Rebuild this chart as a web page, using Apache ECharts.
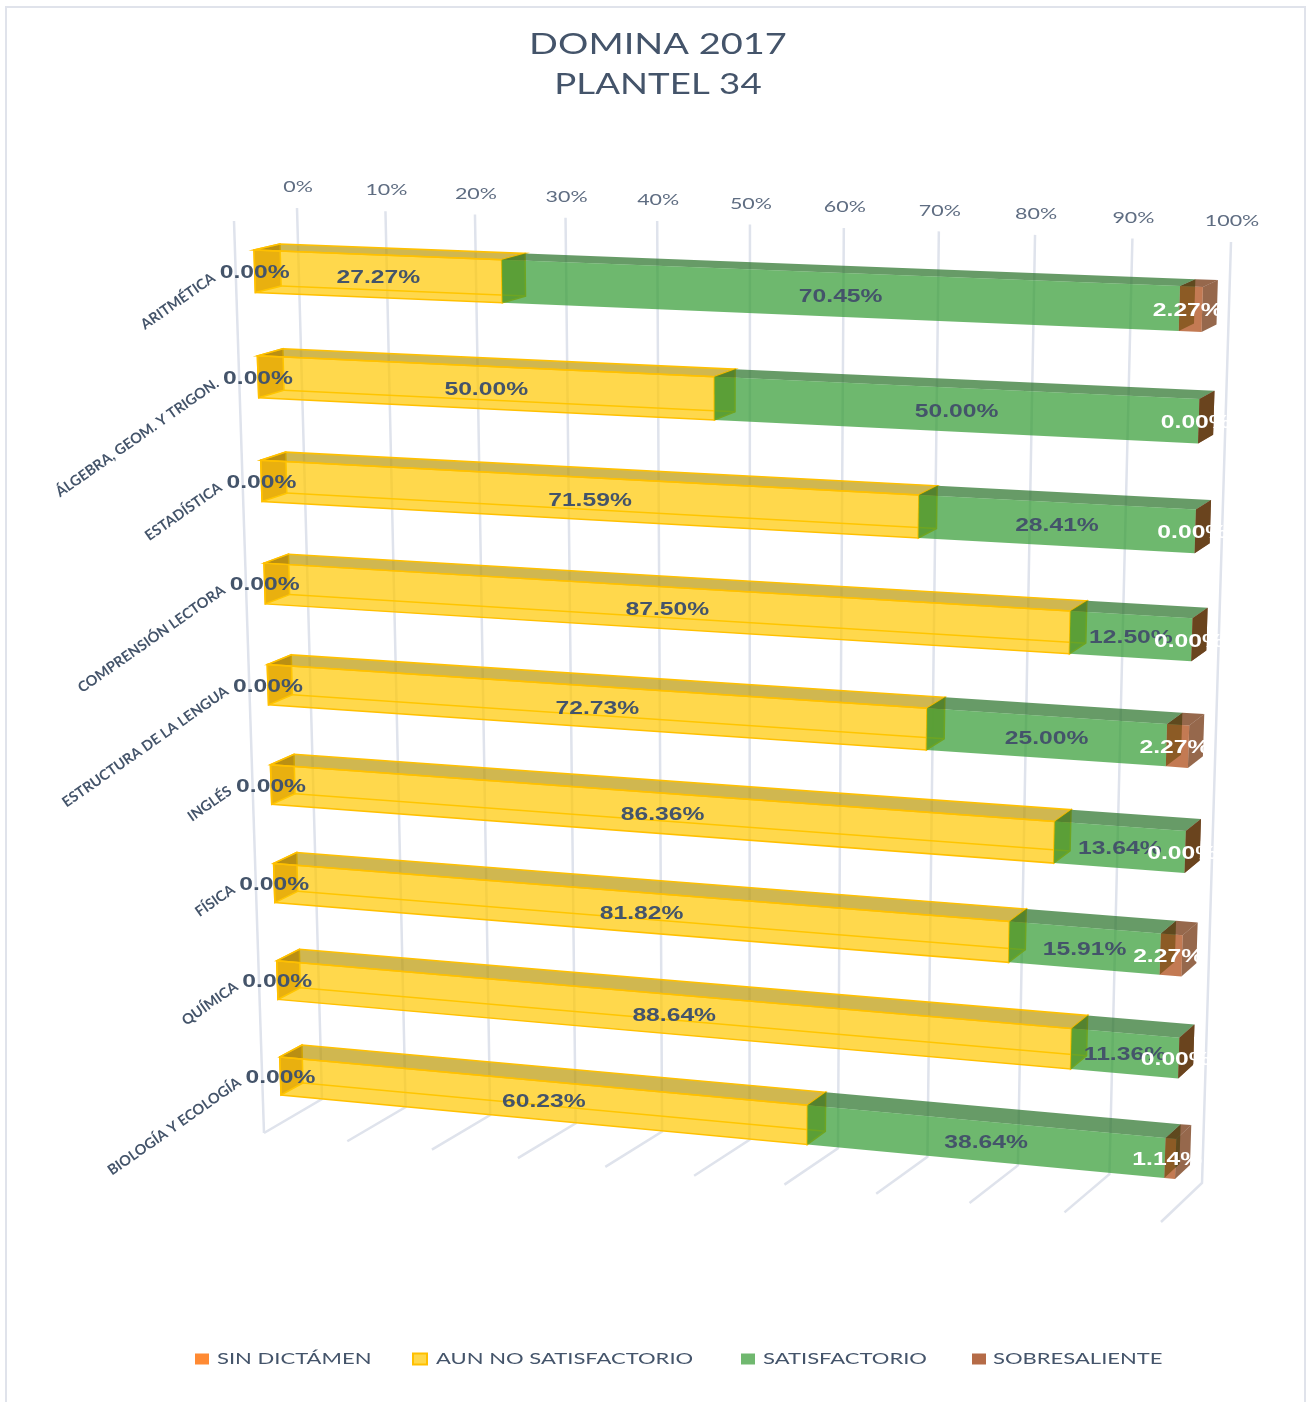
<!DOCTYPE html>
<html>
<head>
<meta charset="utf-8">
<title>DOMINA 2017 - PLANTEL 34</title>
<script src="https://cdn.jsdelivr.net/npm/echarts@6/dist/echarts.min.js"></script>
<style>
  html, body { margin: 0; padding: 0; background: #fff; }
  #chart { width: 1313px; height: 1402px; }
</style>
</head>
<body>
<div id="chart"></div>
<script>
const categories = [
  'ARITMÉTICA',
  'ÁLGEBRA, GEOM. Y TRIGON.',
  'ESTADÍSTICA',
  'COMPRENSIÓN LECTORA',
  'ESTRUCTURA DE LA LENGUA',
  'INGLÉS',
  'FÍSICA',
  'QUÍMICA',
  'BIOLOGÍA Y ECOLOGÍA',
];
const sinDictamen = [0, 0, 0, 0, 0, 0, 0, 0, 0];
const aunNoSatisfactorio = [27.27, 50, 71.59, 87.5, 72.73, 86.36, 81.82, 88.64, 60.23];
const satisfactorio = [70.45, 50, 28.41, 12.5, 25, 13.64, 15.91, 11.36, 38.64];
const sobresaliente = [2.27, 0, 0, 0, 2.27, 0, 2.27, 0, 1.14];
const tickValues = [0, 10, 20, 30, 40, 50, 60, 70, 80, 90, 100];
const tickLabels = ['0%', '10%', '20%', '30%', '40%', '50%', '60%', '70%', '80%', '90%', '100%'];
const titleLines = ['DOMINA 2017', 'PLANTEL 34'];
const legendNames = ['SIN DICTÁMEN', 'AUN NO SATISFACTORIO', 'SATISFACTORIO', 'SOBRESALIENTE'];

const TEXT_COLOR = '#44546A';
const TICK_COLOR = '#5F6D82';
const GRID_LINE = '#DFE3EC';
const BAR_HALF = 0.2; // half bar height, in rows

// perspective planes, corners in order TL, TR, BR, BL
function planeFrom(p) {
  const [x0, y0] = p[0];
  const [x1, y1] = p[1];
  const [x2, y2] = p[2];
  const [x3, y3] = p[3];
  const dx1 = x1 - x2;
  const dx2 = x3 - x2;
  const dx3 = x0 - x1 + x2 - x3;
  const dy1 = y1 - y2;
  const dy2 = y3 - y2;
  const dy3 = y0 - y1 + y2 - y3;
  const den = dx1 * dy2 - dx2 * dy1;
  const g = (dx3 * dy2 - dx2 * dy3) / den;
  const h = (dx1 * dy3 - dx3 * dy1) / den;
  const a = x1 - x0 + g * x1;
  const b = x3 - x0 + h * x3;
  const d = y1 - y0 + g * y1;
  const e = y3 - y0 + h * y3;
  return (s, t) => {
    const w = g * s + h * t + 1;
    return [(a * s + b * t + x0) / w, (d * s + e * t + y0) / w];
  };
}
const frontPlane = planeFrom([[254, 250], [1203, 287], [1175, 1179], [281, 1095]]);
const backPlane = planeFrom([[280, 244], [1218, 280], [1190, 1165], [303, 1083]]);
const wallPlane = planeFrom([[297, 208], [1231, 242], [1202, 1183], [322, 1099]]);
const floorPlane = planeFrom([[322, 1099], [1202, 1183], [1161, 1222], [264, 1133]]);

// pixel of the flat cartesian grid -> s along the value axis, t across the rows
function unitOf(pt, coordSys) {
  const s = (pt[0] - coordSys.x) / coordSys.width;
  const row = ((pt[1] - coordSys.y) / coordSys.height) * categories.length - 0.5;
  const t = (row + BAR_HALF) / (categories.length - 1 + 2 * BAR_HALF);
  return [s, t];
}

function face(points, fill, stroke) {
  return {
    type: 'polygon',
    shape: { points },
    style: { fill, stroke: stroke || 'none', lineWidth: stroke ? 1.5 : 0 },
    silent: true,
  };
}

function barText(text, pos, fill) {
  return {
    type: 'text',
    x: pos[0],
    y: pos[1],
    scaleX: 1.37,
    silent: true,
    style: {
      text,
      fill,
      font: 'bold 18px "Liberation Sans", Arial, sans-serif',
      align: 'center',
      verticalAlign: 'middle',
    },
  };
}

// colours of one 3d box; a face left out of look is not painted
function boxRenderer(look) {
  return (params, api) => {
    const from = api.value(0);
    const to = api.value(1);
    const row = api.value(2);
    const val = api.value(3);
    const cs = params.coordSys;
    const [s0, tMid] = unitOf(api.coord([from, row]), cs);
    const [s1] = unitOf(api.coord([to, row]), cs);
    const dt = BAR_HALF / (categories.length - 1 + 2 * BAR_HALF);
    const t0 = tMid - dt;
    const t1 = tMid + dt;
    const ftl = frontPlane(s0, t0);
    const ftr = frontPlane(s1, t0);
    const fbr = frontPlane(s1, t1);
    const fbl = frontPlane(s0, t1);
    const btl = backPlane(s0, t0);
    const btr = backPlane(s1, t0);
    const bbr = backPlane(s1, t1);
    const bbl = backPlane(s0, t1);
    const open = to > from;
    const children = [];
    const leftFill = open ? look.left : look.leftEmpty;
    // a narrow box shows its right end over the left one, an empty box only the left
    if (leftFill && open) children.push(face([ftl, btl, bbl, fbl], leftFill, look.stroke));
    if (look.right) children.push(face([ftr, btr, bbr, fbr], look.right, look.stroke));
    if (leftFill && !open) children.push(face([ftl, btl, bbl, fbl], leftFill, look.stroke));
    if (look.top && open) children.push(face([ftl, ftr, btr, btl], look.top, look.stroke));
    if (look.front && open) {
      if (look.stroke) {
        children.push({
          type: 'polyline',
          shape: { points: [bbl, bbr] },
          style: { stroke: look.stroke, lineWidth: 1.5, fill: 'none' },
          silent: true,
        });
      }
      children.push(face([ftl, ftr, fbr, fbl], look.front, look.stroke));
    }
    const mid = [
      (ftl[0] + ftr[0] + fbr[0] + fbl[0]) / 4 + (look.labelDx || 0),
      (ftl[1] + ftr[1] + fbr[1] + fbl[1]) / 4 + 2,
    ];
    children.push(barText(val.toFixed(2) + '%', mid, look.label));
    return { type: 'group', children };
  };
}

function stackRows(values, below) {
  return values.map((v, i) => {
    const from = below.reduce((sum, arr) => sum + arr[i], 0);
    return [from, Math.min(from + v, 100), i, v];
  });
}

function renderWalls(params, api) {
  const v = api.value(0);
  const [s] = unitOf(api.coord([v, 0]), params.coordSys);
  const top = wallPlane(s, 0);
  const corner = wallPlane(s, 1);
  const out = floorPlane(s, 1);
  const children = [
    {
      type: 'polyline',
      shape: { points: [top, corner, out] },
      style: { stroke: GRID_LINE, lineWidth: 2.5, fill: 'none' },
      silent: true,
    },
    {
      type: 'text',
      x: top[0] + 1,
      y: top[1] - 21,
      scaleX: 1.34,
      silent: true,
      style: {
        text: tickLabels[params.dataIndex],
        fill: TICK_COLOR,
        font: '16px Lato, sans-serif',
        align: 'center',
        verticalAlign: 'middle',
      },
    },
  ];
  if (v === tickValues[0]) {
    // the open side wall edge
    children.push({
      type: 'line',
      shape: { x1: 234, y1: 221, x2: out[0], y2: out[1] },
      style: { stroke: GRID_LINE, lineWidth: 2.5 },
      silent: true,
    });
  }
  return { type: 'group', children };
}

function renderCategoryLabels(params, api) {
  const row = api.value(0);
  const [s, t] = unitOf(api.coord([0, row]), params.coordSys);
  const pos = frontPlane(s, t);
  return {
    type: 'text',
    x: pos[0] - 41,
    y: pos[1] + 5,
    rotation: (35 * Math.PI) / 180,
    silent: true,
    style: {
      text: categories[row],
      fill: TEXT_COLOR,
      font: 'bold 14.5px Lato, sans-serif',
      align: 'right',
      verticalAlign: 'middle',
    },
  };
}

function titleText(text, y, size) {
  return {
    type: 'text',
    x: 658,
    y,
    scaleX: 1.31,
    silent: true,
    style: {
      text,
      fill: TEXT_COLOR,
      font: size + 'px Lato, sans-serif',
      align: 'center',
      verticalAlign: 'middle',
    },
  };
}

// legend has to be stretched like the rest of the picture, so it is a graphic group
const legendMarkX = [195, 413, 741, 972];
const legendTextX = [217, 436, 763, 993];
const legendLook = [
  { fill: '#FF8A33' },
  { fill: '#FFD84A', stroke: '#FFC000', lineWidth: 2 },
  { fill: '#70B86F' },
  { fill: '#B56B47' },
];
const legendItems = [];
legendNames.forEach((name, i) => {
  legendItems.push({
    type: 'rect',
    silent: true,
    shape: { x: legendMarkX[i], y: 1353.5, width: 14, height: 11 },
    style: legendLook[i],
  });
  legendItems.push({
    type: 'text',
    x: legendTextX[i],
    y: 1358.5,
    scaleX: 1.42,
    silent: true,
    style: {
      text: name,
      fill: TEXT_COLOR,
      font: '15.5px Lato, sans-serif',
      align: 'left',
      verticalAlign: 'middle',
    },
  });
});

const chart = echarts.init(document.getElementById('chart'));

chart.setOption({
  animation: false,
  backgroundColor: '#fff',
  grid: { left: 254, top: 250, width: 950, height: 930 },
  xAxis: { type: 'value', min: 0, max: 100, show: false },
  yAxis: { type: 'category', data: categories, inverse: true, show: false },
  graphic: [
    {
      type: 'rect',
      silent: true,
      shape: { x: 6, y: 7, width: 1299, height: 1410 },
      style: { fill: 'none', stroke: '#E0E3EB', lineWidth: 2 },
    },
    titleText(titleLines[0], 45, 29),
    titleText(titleLines[1], 85, 28),
    ...legendItems,
  ],
  series: [
    {
      type: 'custom',
      name: 'ejes',
      z: 1,
      data: tickValues.map((v) => [v]),
      encode: { x: 0 },
      renderItem: renderWalls,
    },
    {
      type: 'custom',
      name: 'categorias',
      z: 1,
      data: categories.map((c, i) => [i]),
      encode: { y: 0 },
      renderItem: renderCategoryLabels,
    },
    {
      type: 'custom',
      name: legendNames[1],
      z: 3,
      data: stackRows(aunNoSatisfactorio, [sinDictamen]),
      encode: { x: [0, 1], y: 2 },
      renderItem: boxRenderer({
        left: 'rgb(180,120,53)',
        right: 'rgba(187,167,60,0.95)',
        top: 'rgba(188,153,6,0.7)',
        front: 'rgba(255,200,0,0.7)',
        stroke: '#FFC000',
        label: TEXT_COLOR,
      }),
    },
    {
      type: 'custom',
      name: legendNames[2],
      z: 4,
      data: stackRows(satisfactorio, [sinDictamen, aunNoSatisfactorio]),
      encode: { x: [0, 1], y: 2 },
      renderItem: boxRenderer({
        top: 'rgba(38,112,39,0.7)',
        front: 'rgba(49,154,49,0.7)',
        label: TEXT_COLOR,
      }),
    },
    {
      type: 'custom',
      name: legendNames[3],
      z: 5,
      data: stackRows(sobresaliente, [sinDictamen, aunNoSatisfactorio, satisfactorio]),
      encode: { x: [0, 1], y: 2 },
      renderItem: boxRenderer({
        right: 'rgba(105,40,0,0.7)',
        left: 'rgb(70,150,100)',
        leftEmpty: 'rgb(106,68,30)',
        top: 'rgba(105,40,0,0.7)',
        front: 'rgba(170,65,10,0.7)',
        label: '#fff',
        labelDx: -3,
      }),
    },
    {
      type: 'custom',
      name: legendNames[0],
      z: 6,
      data: stackRows(sinDictamen, []),
      encode: { x: [0, 1], y: 2 },
      renderItem: boxRenderer({
        top: '#FF8A33',
        front: '#FF8A33',
        label: TEXT_COLOR,
      }),
    },
  ],
});
</script>
</body>
</html>
